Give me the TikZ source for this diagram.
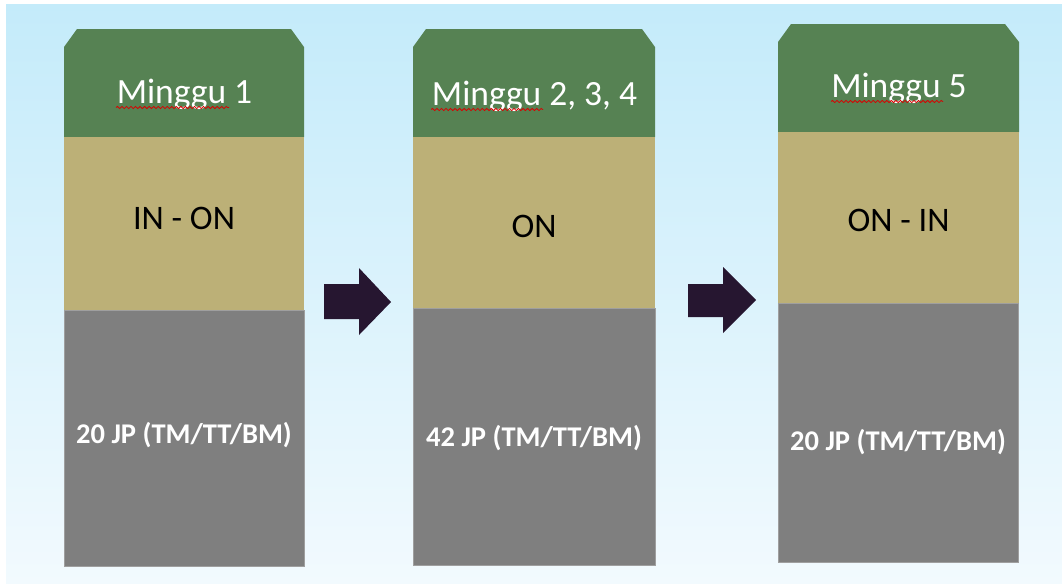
\documentclass[tikz,border=0pt]{standalone}
\usepackage{fontspec}
\setmainfont{Carlito}
\usetikzlibrary{decorations.pathmorphing}
\definecolor{bgtop}{RGB}{196,235,250}
\definecolor{bgbot}{RGB}{242,250,254}
\definecolor{wkgreen}{RGB}{86,130,83}
\definecolor{wkkhaki}{RGB}{188,176,119}
\definecolor{wkgray}{RGB}{127,127,127}
\definecolor{arrowc}{RGB}{38,22,48}
\begin{document}
\begin{tikzpicture}[x=0.75pt,y=-0.75pt,
  title/.style={anchor=base,text=white,font=\fontsize{26.6}{30}\selectfont,inner sep=0pt},
  mode/.style={anchor=base,text=black,font=\fontsize{25.8}{30}\selectfont,inner sep=0pt},
  hours/.style={anchor=base,text=white,font=\bfseries\fontsize{21.4}{26}\selectfont,inner sep=0pt},
  squig/.style={draw=red!85!black,line width=0.6pt,decorate,decoration={snake,segment length=3.4pt,amplitude=0.8pt}},
  greenpart/.style={fill=wkgreen},
  khakipart/.style={fill=wkkhaki},
  graypart/.style={fill=wkgray,draw=gray!75,line width=0.3pt},
  arrowshape/.style={fill=arrowc}]
\useasboundingbox (0,0) rectangle (1062,583);
\fill[white] (0,0) rectangle (1062,583);
\shade[top color=bgtop,bottom color=bgbot] (6,4) rectangle (1062,583);

% column 1
\fill[greenpart] (64,47) -- (77,29) -- (291,29) -- (304,47) -- (304,137) -- (64,137) -- cycle;
\fill[khakipart] (64,137) rectangle (304,310);
\path[graypart] (64,310) rectangle (304,566);
% column 2
\fill[greenpart] (413,47) -- (426,29) -- (642,29) -- (655,47) -- (655,137) -- (413,137) -- cycle;
\fill[khakipart] (413,137) rectangle (655,308);
\path[graypart] (413,308) rectangle (655,565);
% column 3
\fill[greenpart] (778,42) -- (791,24) -- (1005,24) -- (1019,42) -- (1019,132) -- (778,132) -- cycle;
\fill[khakipart] (778,132) rectangle (1019,303);
\path[graypart] (778,303) rectangle (1018,562);

% arrows
\fill[arrowshape] (324,284) -- (359,284) -- (359,268) -- (391,302) -- (359,335) -- (359,319) -- (324,319) -- cycle;
\fill[arrowshape] (688,284) -- (723,284) -- (723,267) -- (756,300) -- (723,333) -- (723,317) -- (688,317) -- cycle;

% texts
\node[title] (t1) at (184.5,103) {Minggu 1};
\node[title] (t2) at (534.5,105) {Minggu 2, 3, 4};
\node[title] (t3) at (899,97) {Minggu 5};
\draw[squig] (116,107.5) -- (229,107.5);
\draw[squig] (431,109.5) -- (543,109.5);
\draw[squig] (831,101.5) -- (943,101.5);

\node[mode] (m1) at (184,229) {IN - ON};
\node[mode] (m2) at (534,237) {ON};
\node[mode] (m3) at (898.5,231) {ON - IN};

\node[hours] (h1) at (184,443) {20 JP (TM/TT/BM)};
\node[hours] (h2) at (534,446) {42 JP (TM/TT/BM)};
\node[hours] (h3) at (898,450) {20 JP (TM/TT/BM)};
\end{tikzpicture}
\end{document}
